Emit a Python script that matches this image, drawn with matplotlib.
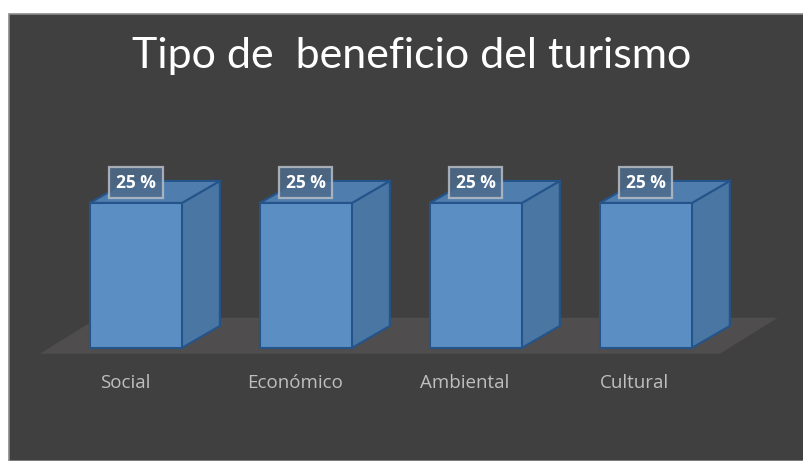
import matplotlib
matplotlib.use('Agg')
import matplotlib.pyplot as plt
from matplotlib.patches import Polygon, Rectangle
import numpy as np

# Data
categories = ['Social', 'Económico', 'Ambiental', 'Cultural']
values = [25, 25, 25, 25]
value_labels = ['25 %', '25 %', '25 %', '25 %']
title = 'Tipo de  beneficio del turismo'

# Colours
bg = '#404040'
floor_c = '#4f4d4d'
front_c = '#5b8fc3'
side_c = '#4a76a3'
top_c = '#4f7eae'
edge_c = '#24548a'

fig = plt.figure(figsize=(8.04, 4.61), dpi=100)
fig.patch.set_facecolor('white')
# dark chart area with white margin on top / left
fig.patches.append(Rectangle((9 / 804, 0), 1, 1 - 14 / 461, transform=fig.transFigure,
                             facecolor=bg, edgecolor='#8a8a8a', linewidth=1.2, zorder=-5))

ax = fig.add_axes([0, 0, 1, 1])
ax.set_zorder(2)
ax.set_xlim(-0.8, 3.93)
ax.set_ylim(-19.5, 60)
ax.axis('off')
ax.patch.set_alpha(0)

x = np.arange(len(categories))
w = 0.54
dx, dy = 0.2235, 3.8   # depth of the boxes

# floor
fdx, fdy = 0.341, 6.2
f0, f1, fy = -0.565, 3.435, -1.0
ax.add_patch(Polygon([(f0, fy), (f1, fy), (f1 + fdx, fy + fdy), (f0 + fdx, fy + fdy)],
                     closed=True, facecolor=floor_c, edgecolor='none', zorder=1))

bars = ax.bar(x, values, width=w, color=front_c, edgecolor=edge_c, linewidth=1.5, zorder=3)

for b, lab in zip(bars, value_labels):
    l, r = b.get_x(), b.get_x() + b.get_width()
    h = b.get_height()
    side = Polygon([(r, 0), (r + dx, dy), (r + dx, h + dy), (r, h)], closed=True,
                   facecolor=side_c, edgecolor=edge_c, linewidth=1.5, zorder=2)
    top = Polygon([(l, h), (r, h), (r + dx, h + dy), (l + dx, h + dy)], closed=True,
                  facecolor=top_c, edgecolor=edge_c, linewidth=1.5, zorder=2)
    ax.add_patch(side)
    ax.add_patch(top)
    ax.text(l + w / 2, h + 3.5, lab, ha='center', va='center', color='white',
            fontsize=12.5, fontweight='bold', family='Open Sans', zorder=5,
            bbox=dict(boxstyle='square,pad=0.38', facecolor='#4d6c8c', alpha=0.85,
                      edgecolor='#b8bec6', linewidth=1.6))

for xi, c in zip(x, categories):
    ax.text(xi - 0.065, -6.0, c, ha='center', va='center', color='#bfbfbf',
            fontsize=13.5, family='Open Sans', zorder=5)

fig.text(0.512, 1 - 56 / 461, title, ha='center', va='center', color='white',
         fontsize=31, family='Lato', zorder=5)

fig.savefig('out.png', dpi=100)
